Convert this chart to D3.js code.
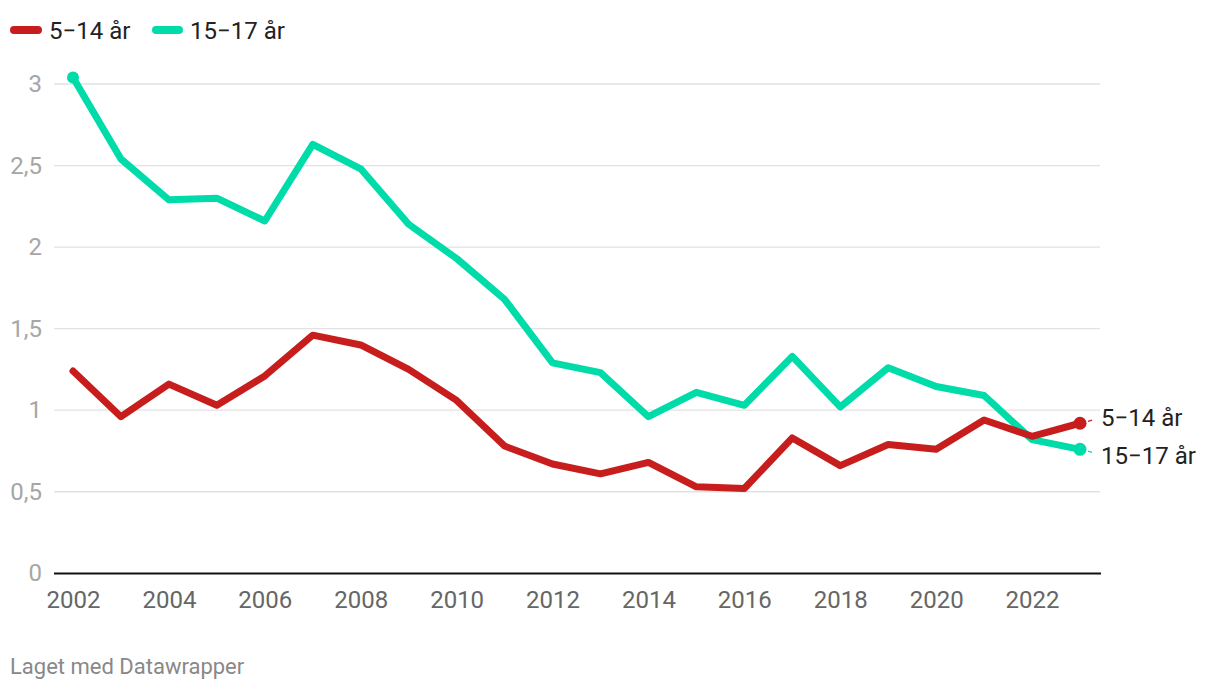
<!DOCTYPE html>
<html><head><meta charset="utf-8">
<script src="https://cdn.jsdelivr.net/npm/d3@7"></script>
<style>
html,body{margin:0;padding:0;background:#fff;}
svg{display:block;font-family:Roboto, "Noto Sans", sans-serif;}
</style></head>
<body><svg id="c" width="1220" height="690"></svg>
<script>
const years = [2002,2003,2004,2005,2006,2007,2008,2009,2010,2011,2012,2013,2014,2015,2016,2017,2018,2019,2020,2021,2022,2023];
const age5_14 = [1.24,0.96,1.16,1.03,1.21,1.46,1.40,1.25,1.06,0.78,0.67,0.61,0.68,0.53,0.52,0.83,0.66,0.79,0.76,0.94,0.84,0.92];
const age15_17 = [3.04,2.54,2.29,2.30,2.16,2.63,2.48,2.14,1.93,1.68,1.29,1.23,0.96,1.11,1.03,1.33,1.02,1.26,1.145,1.09,0.82,0.76];
const seriesNames = ["5−14 år","15−17 år"];
const colors = ["#c71e1d","#00dca9"];
const yTicks = [0,0.5,1,1.5,2,2.5,3];
const xTicks = [2002,2004,2006,2008,2010,2012,2014,2016,2018,2020,2022];
const footer = "Laget med Datawrapper";

const svg = d3.select("#c");
const x = d3.scaleLinear().domain([2002,2023]).range([73,1080]);
const y = d3.scaleLinear().domain([0,3]).range([573.3,84]);
const fmt = d => String(d).replace(".", ",");

// grid
svg.append("g").selectAll("line").data(yTicks.filter(d=>d>0)).join("line")
  .attr("x1",54).attr("x2",1100).attr("y1",d=>y(d)).attr("y2",d=>y(d))
  .attr("stroke","#e2e2e2").attr("stroke-width",1.3);

// y labels
const yAxis = d3.axisLeft(y).tickValues(yTicks).tickFormat(fmt).tickSize(0).tickPadding(0);
const gy = svg.append("g").attr("transform","translate(42,0)").call(yAxis);
gy.select(".domain").remove();
gy.selectAll("text").attr("fill","#a6a6a6").attr("font-size","24px").attr("font-family","Roboto").attr("dy","0.32em");

// x axis
const xAxis = d3.axisBottom(x).tickValues(xTicks).tickFormat(d=>String(d)).tickSize(0).tickPadding(0);
const gx = svg.append("g").attr("transform","translate(0,574)").call(xAxis);
gx.select(".domain").remove();
gx.selectAll("text").attr("fill","#666").attr("font-size","24px").attr("font-family","Roboto").attr("y",33.5).attr("dy",0);
svg.append("line").attr("x1",54).attr("x2",1101).attr("y1",573.5).attr("y2",573.5).attr("stroke","#111").attr("stroke-width",2);

// lines
const data = [age5_14, age15_17];
const line = d3.line().x((d,i)=>x(years[i])).y(d=>y(d));
[1,0].forEach(k=>{
  svg.append("path").datum(data[k]).attr("d",line)
    .attr("fill","none").attr("stroke",colors[k]).attr("stroke-width",7)
    .attr("stroke-linejoin","round").attr("stroke-linecap","round");
});
// dots
svg.append("circle").attr("cx",x(years[0])).attr("cy",y(age15_17[0])).attr("r",6).attr("fill",colors[1]);
const labelBase = [426, 464];
const labelMid = [417, 455.5];
[0,1].forEach(k=>{
  const last = data[k][data[k].length-1];
  svg.append("circle").attr("cx",x(years[years.length-1])).attr("cy",y(last)).attr("r",6.5).attr("fill",colors[k]);
  svg.append("line").attr("x1",x(2023)+8).attr("x2",x(2023)+12)
    .attr("y1",y(last)+(labelMid[k]-y(last))*0.3).attr("y2",y(last)+(labelMid[k]-y(last))*0.5)
    .attr("stroke",colors[k]).attr("stroke-width",1.2);
  svg.append("text").attr("x",1101).attr("y",labelBase[k])
    .attr("font-size","24px").attr("fill","#222").text(seriesNames[k]);
});

// legend
const leg = [{x1:14,x2:38,tx:49},{x1:156,x2:179,tx:190}];
[0,1].forEach(k=>{
  svg.append("line").attr("x1",leg[k].x1).attr("x2",leg[k].x2).attr("y1",30).attr("y2",30)
    .attr("stroke",colors[k]).attr("stroke-width",8).attr("stroke-linecap","round");
  svg.append("text").attr("x",leg[k].tx).attr("y",38.5)
    .attr("font-size","24px").attr("fill","#222").text(seriesNames[k]);
});

// footer
svg.append("text").attr("x",10).attr("y",674).attr("font-size","22px").attr("fill","#888").text(footer);
</script></body></html>
